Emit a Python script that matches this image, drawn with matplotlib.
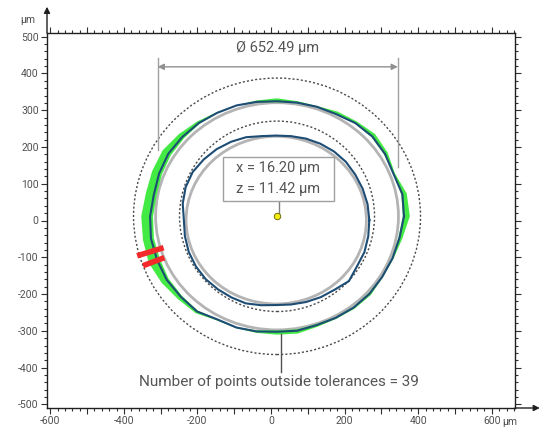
#Roundness measurement of a ring: measured profiles, tolerance zones and fitted centre
import matplotlib
matplotlib.use('Agg')
import matplotlib.pyplot as plt
from matplotlib.patches import Ellipse, Rectangle
from matplotlib.ticker import MultipleLocator, FuncFormatter
import numpy as np

plt.rcParams['font.family'] = ['Roboto', 'DejaVu Sans']

# fitted centre (um)
center_x = 16.20
center_z = 11.42
diameter = 652.49
n_outside = 39

# outer measured profile: radius (um) every 10 deg, around the fitted centre
outer_angle = list(range(0, 360, 10))
outer_r = [345, 346, 337, 339, 338, 331, 321, 317, 314, 313,
           316, 321, 325, 331, 336, 341, 341, 340, 345, 348,
           347, 346, 341, 338, 324, 322, 318, 314, 316, 315,
           319, 324, 328, 330, 334, 338]
# green deviation band outside / inside the outer profile (um)
green_out = [16, 12, 4, 8, 10, 6, 8, 2, 4, 8,
             4, 0, 2, 6, 12, 18, 20, 22, 24, 22,
             24, 16, 10, 6, 3, 2, 4, 8, 8, 5,
             3, 4, 5, 2, 3, 8]
green_in = [3, 3, 1, 3, 3, 1, 2, 1, 2, 3,
            2, 0, 1, 3, 6, 8, 8, 8, 8, 8,
            8, 6, 4, 3, 1, 1, 3, 4, 4, 3,
            2, 2, 3, 1, 2, 3]

# inner measured profile, centre slightly lower
inner_cx = 14
inner_cz = 1
inner_angle = list(range(0, 360, 10))
inner_r = [253, 252, 250, 248, 247, 244, 240, 236, 232, 230,
           232, 240, 246, 252, 257, 262, 262, 258, 251, 252,
           253, 252, 250, 246, 243, 241, 235, 231, 233, 237,
           242, 247, 258, 253, 255, 254]

# tolerance circles (dotted) and nominal circles (grey), half axes in um
tol_outer = (390, 376)
tol_inner = (265, 259)
nom_outer = (330, 309)
nom_inner = (245, 228)

# points outside tolerance (red), start/end in um
red_x = [(-364, -292), (-348, -290)]
red_z = [(-96, -74), (-123, -101)]

fig = plt.figure(figsize=(5.44, 4.30), dpi=100)
ax = fig.add_axes([47/544, 22/430, 468/544, 375/430])
ax.set_xlim(-609, 663)
ax.set_ylim(-510, 510)

def polar(cx, cz, ang, r):
    a = np.radians(np.array(ang + [ang[0]]))
    r = np.array(r + [r[0]])
    return cx + r*np.cos(a), cz + r*np.sin(a)

# dotted tolerance circles
for rx, rz in [tol_outer, tol_inner]:
    ax.add_patch(Ellipse((center_x, center_z), 2*rx, 2*rz, fill=False, ec='#4a4a4a',
                         lw=1.0, ls=(0, (1.5, 1.5)), zorder=2))

# grey nominal circles
ax.add_patch(Ellipse((center_x, center_z), 2*nom_outer[0], 2*nom_outer[1], fill=False,
                     ec='#b4b4b4', lw=2, zorder=3))
ax.add_patch(Ellipse((inner_cx, inner_cz), 2*nom_inner[0], 2*nom_inner[1], fill=False,
                     ec='#b4b4b4', lw=2, zorder=3))

# green band around outer profile
a = np.radians(np.array(outer_angle + [outer_angle[0]]))
r = np.array(outer_r + [outer_r[0]])
go = np.array(green_out + [green_out[0]])
gi = np.array(green_in + [green_in[0]])
xo = center_x + (r+go)*np.cos(a); zo = center_z + (r+go)*np.sin(a)
xi = center_x + (r-gi)*np.cos(a); zi = center_z + (r-gi)*np.sin(a)
ax.fill(np.concatenate([xo, xi[::-1]]), np.concatenate([zo, zi[::-1]]),
        color='#44ea44', lw=0, zorder=4)

# measured profiles
x, z = polar(center_x, center_z, outer_angle, outer_r)
ax.plot(x, z, color='#1d4c74', lw=1.5, zorder=5)
x, z = polar(inner_cx, inner_cz, inner_angle, inner_r)
ax.plot(x, z, color='#1d4c74', lw=1.5, zorder=5)

# red out of tolerance marks
for xs, zs in zip(red_x, red_z):
    ax.plot(xs, zs, color='#f42a2a', lw=4, solid_capstyle='butt', zorder=6)

# diameter dimension
x_left = -308
x_right = x_left + diameter
ax.plot([x_left, x_left], [443, 192], color='#a0a0a0', lw=1, zorder=6)
ax.plot([x_right, x_right], [443, 146], color='#a0a0a0', lw=1, zorder=6)
ax.annotate('', xy=(x_left, 418), xytext=(x_right, 418),
            arrowprops=dict(arrowstyle='<|-|>', color='#909090', lw=1,
                            mutation_scale=9, shrinkA=0, shrinkB=0), zorder=6)
ax.text((x_left+x_right)/2, 470, 'Ø {:.2f} µm'.format(diameter), ha='center', va='center',
        fontsize=10.5, color='#555555', zorder=7)

# centre callout
ax.add_patch(Rectangle((-131, 53), 303, 120, fc='white', ec='#a0a0a0', lw=1, zorder=7))
ax.text(20, 144, 'x = {:.2f} µm'.format(center_x), ha='center', va='center',
        fontsize=10.5, color='#555555', zorder=8)
ax.text(20, 87, 'z = {:.2f} µm'.format(center_z), ha='center', va='center',
        fontsize=10.5, color='#555555', zorder=8)
ax.plot([22, 22], [53, center_z], color='#808080', lw=1, zorder=6)
ax.scatter([center_x], [center_z], s=22, color='#f2ea10', edgecolor='#606000', lw=0.6, zorder=9)

# bottom callout
ax.plot([27, 27], [-310, -413], color='#505050', lw=1, zorder=6)
ax.text(22, -440, 'Number of points outside tolerances = {}'.format(n_outside), ha='center',
        va='center', fontsize=11, color='#555555', zorder=8)

# axes: ticks on all four sides, outward
ax.xaxis.set_major_locator(MultipleLocator(100))
ax.xaxis.set_minor_locator(MultipleLocator(20))
ax.yaxis.set_major_locator(MultipleLocator(100))
ax.yaxis.set_minor_locator(MultipleLocator(20))
ax.xaxis.set_major_formatter(FuncFormatter(lambda v, p: '{:d}'.format(int(round(v))) if round(v) % 200 == 0 else ''))
ax.yaxis.set_major_formatter(FuncFormatter(lambda v, p: '{:d}'.format(int(round(v)))))
ax.tick_params(which='both', direction='out', top=True, right=True, labelsize=7.5,
               labelcolor='#505050', color='#303030', width=0.8, pad=2)
ax.tick_params(which='major', length=4)
ax.tick_params(which='minor', length=2.5)
for s in ax.spines.values():
    s.set_linewidth(1)
    s.set_color('#202020')

# axis arrows and unit labels
ax.annotate('', xy=(0, 1.07), xycoords='axes fraction', xytext=(0, 1), textcoords='axes fraction',
            arrowprops=dict(arrowstyle='-|>', color='#202020', lw=1, mutation_scale=9, shrinkA=0, shrinkB=0))
ax.annotate('', xy=(1.053, 0), xycoords='axes fraction', xytext=(1, 0), textcoords='axes fraction',
            arrowprops=dict(arrowstyle='-|>', color='#202020', lw=1, mutation_scale=9, shrinkA=0, shrinkB=0))
ax.text(-0.025, 1.035, 'µm', transform=ax.transAxes, ha='right', va='center', fontsize=7.5, color='#505050')
ax.annotate('µm', xy=(628, 0), xycoords=('data', 'axes fraction'), xytext=(0, -10),
            textcoords='offset points', ha='left', va='center', fontsize=7.5, color='#505050')

fig.savefig('out.png', dpi=100)
